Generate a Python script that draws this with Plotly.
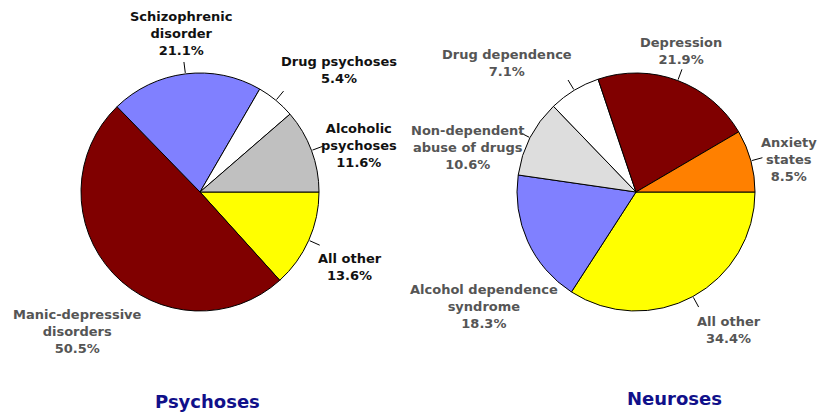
import math

import plotly.graph_objects as go

# data, in clockwise order starting at 3 o'clock
psychoses_labels = ["All other", "Manic-depressive disorders", "Schizophrenic disorder",
                    "Drug psychoses", "Alcoholic psychoses"]
psychoses_values = [13.6, 50.5, 21.1, 5.4, 11.6]

neuroses_labels = ["All other", "Alcohol dependence syndrome", "Non-dependent abuse of drugs",
                   "Drug dependence", "Depression", "Anxiety states"]
neuroses_values = [34.4, 18.3, 10.6, 7.1, 21.9, 8.5]

chart_titles = ["Psychoses", "Neuroses"]

# label text as printed (line breaks) and where it sits, in pixels
psychoses_text = {
    "All other": "All other",
    "Manic-depressive disorders": "Manic-depressive<br>disorders",
    "Schizophrenic disorder": "Schizophrenic<br>disorder",
    "Drug psychoses": "Drug psychoses",
    "Alcoholic psychoses": "Alcoholic<br>psychoses",
}
neuroses_text = {
    "All other": "All other",
    "Alcohol dependence syndrome": "Alcohol dependence<br>syndrome",
    "Non-dependent abuse of drugs": "Non-dependent<br>abuse of drugs",
    "Drug dependence": "Drug dependence",
    "Depression": "Depression",
    "Anxiety states": "Anxiety<br>states",
}
psychoses_pos = {
    "All other": (350, 267),
    "Manic-depressive disorders": (77, 331),
    "Schizophrenic disorder": (181, 34),
    "Drug psychoses": (339, 70),
    "Alcoholic psychoses": (359, 145),
}
neuroses_pos = {
    "All other": (729, 330),
    "Alcohol dependence syndrome": (484, 306),
    "Non-dependent abuse of drugs": (468, 148),
    "Drug dependence": (507, 63),
    "Depression": (681, 51),
    "Anxiety states": (789, 159),
}
no_leader = {"Manic-depressive disorders", "Alcohol dependence syndrome"}

psychoses_colors = ["#FFFF00", "#800000", "#8080FF", "#FFFFFF", "#C0C0C0"]
neuroses_colors = ["#FFFF00", "#8080FF", "#DDDDDD", "#FFFFFF", "#800000", "#FF8000"]

W, H = 822, 413
R = 119
FONT = "DejaVu Sans, Verdana, sans-serif"


def px(x, y):
    return x / W, 1 - y / H


def add_pie(fig, labels, values, colors, center, text, pos, text_color, other_colors=None):
    cx, cy = center
    fig.add_trace(
        go.Pie(
            labels=labels,
            values=values,
            sort=False,
            direction="clockwise",
            rotation=90,
            textinfo="none",
            hoverinfo="label+percent",
            marker=dict(colors=colors, line=dict(color="#000000", width=1)),
            domain=dict(x=[(cx - R) / W, (cx + R) / W], y=[1 - (cy + R) / H, 1 - (cy - R) / H]),
            showlegend=False,
        )
    )
    total = sum(values)
    cum = 0.0
    for label, value in zip(labels, values):
        mid = (cum + value / 2) / total * 2 * math.pi
        cum += value
        if label not in no_leader:
            c, s = math.cos(mid), math.sin(mid)
            x0, y0 = px(cx + (R + 1) * c, cy + (R + 1) * s)
            x1, y1 = px(cx + (R + 12) * c, cy + (R + 12) * s)
            fig.add_shape(type="line", xref="paper", yref="paper", x0=x0, y0=y0, x1=x1, y1=y1,
                          line=dict(color="#000000", width=1))
        ax, ay = px(*pos[label])
        color = (other_colors or {}).get(label, text_color)
        fig.add_annotation(
            x=ax, y=ay, xref="paper", yref="paper", xanchor="center", yanchor="middle",
            showarrow=False, align="center",
            text=f"<b>{text[label]}<br>{value:.1f}%</b>",
            font=dict(family=FONT, size=13, color=color),
        )


fig = go.Figure()
add_pie(fig, psychoses_labels, psychoses_values, psychoses_colors, (200, 192),
        psychoses_text, psychoses_pos, "#111111",
        other_colors={"Manic-depressive disorders": "#555555"})
add_pie(fig, neuroses_labels, neuroses_values, neuroses_colors, (636, 192),
        neuroses_text, neuroses_pos, "#555555")

for title, (tx, ty) in zip(chart_titles, [(207, 401), (674, 398)]):
    x, y = px(tx, ty)
    fig.add_annotation(x=x, y=y, xref="paper", yref="paper", xanchor="center", yanchor="middle",
                       showarrow=False, text=f"<b>{title}</b>",
                       font=dict(family=FONT, size=18, color="#10108A"))

fig.update_layout(
    width=W,
    height=H,
    margin=dict(l=0, r=0, t=0, b=0),
    paper_bgcolor="#FFFFFF",
    plot_bgcolor="#FFFFFF",
)

# drop the page's default body margin so the figure sits at the window's corner
fig.write_html(
    "out.html",
    config={"displayModeBar": False},
    post_script="document.body.style.margin='0';document.body.style.overflow='hidden';",
)
